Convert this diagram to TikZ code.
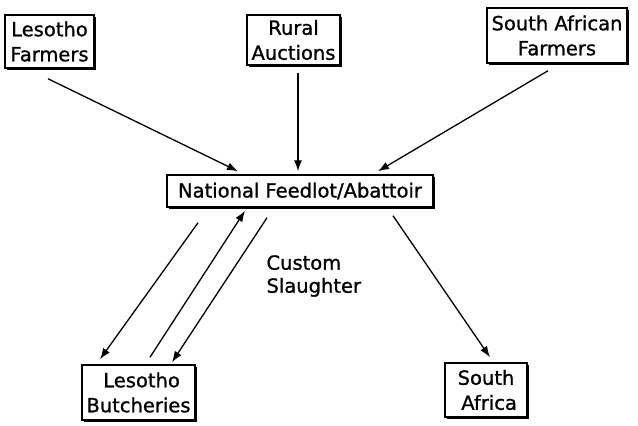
\documentclass[tikz,border=0pt]{standalone}
\usepackage{fontspec}
\setmainfont{DejaVu Sans}[FakeBold=1]
\usetikzlibrary{arrows.meta,shadows}

\begin{document}
\begin{tikzpicture}[x=1pt,y=-1pt,
  box/.style={draw,line width=1.5pt,fill=white,inner sep=0pt,align=center,
    font=\fontsize{19.5}{25}\selectfont,
    drop shadow={shadow xshift=1.5pt,shadow yshift=-1.5pt,fill=black,opacity=1}},
  arr/.style={-{Latex[length=11pt,width=8pt]},line width=1.3pt}]
\useasboundingbox (0,0) rectangle (638,426);

% Sources (top row)
\node[box,minimum width=89pt,minimum height=53pt] (lf) at (49.5,41.5) {Lesotho\\Farmers};
\node[box,minimum width=93pt,minimum height=50pt] (ra) at (293.5,40) {Rural\\Auctions};
\node[box,minimum width=140pt,minimum height=55pt] (saf) at (557,35.5) {South African\\Farmers};

% Feedlot
\node[box,minimum width=266pt,minimum height=32pt] (nf) at (300,191) {National Feedlot/Abattoir};

% Destinations (bottom row)
\node[box,minimum width=113pt,minimum height=55pt] (lb) at (138.5,392.5) {\ Lesotho\\Butcheries};
\node[box,minimum width=82pt,minimum height=54pt] (sa) at (486,390) {South\\\ Africa};

\node[anchor=west,align=left,font=\fontsize{19.5}{23}\selectfont] (cs) at (263,276) {Custom\\Slaughter};

% Flows into the feedlot
\draw[arr] ([xshift=-1.5pt,yshift=-10pt]lf.south) -- ([xshift=-62pt,yshift=3pt]nf.north);
\draw[arr] ([xshift=4.5pt,yshift=-7pt]ra.south) -- ([xshift=-2pt,yshift=3pt]nf.north);
\draw[arr] ([xshift=-9pt,yshift=-7pt]saf.south) -- ([xshift=78pt,yshift=3pt]nf.north);

% Flows out of the feedlot
\draw[arr] ([xshift=-102pt,yshift=-15pt]nf.south) -- ([xshift=-38.5pt,yshift=5pt]lb.north);
\draw[arr] ([xshift=11.5pt,yshift=7pt]lb.north) -- ([xshift=-55pt,yshift=-3pt]nf.south);
\draw[arr] ([xshift=-33pt,yshift=-10pt]nf.south) -- ([xshift=33.5pt,yshift=2pt]lb.north);
\draw[arr] ([xshift=93pt,yshift=-8pt]nf.south) -- ([xshift=4pt,yshift=5pt]sa.north);
\end{tikzpicture}
\end{document}
